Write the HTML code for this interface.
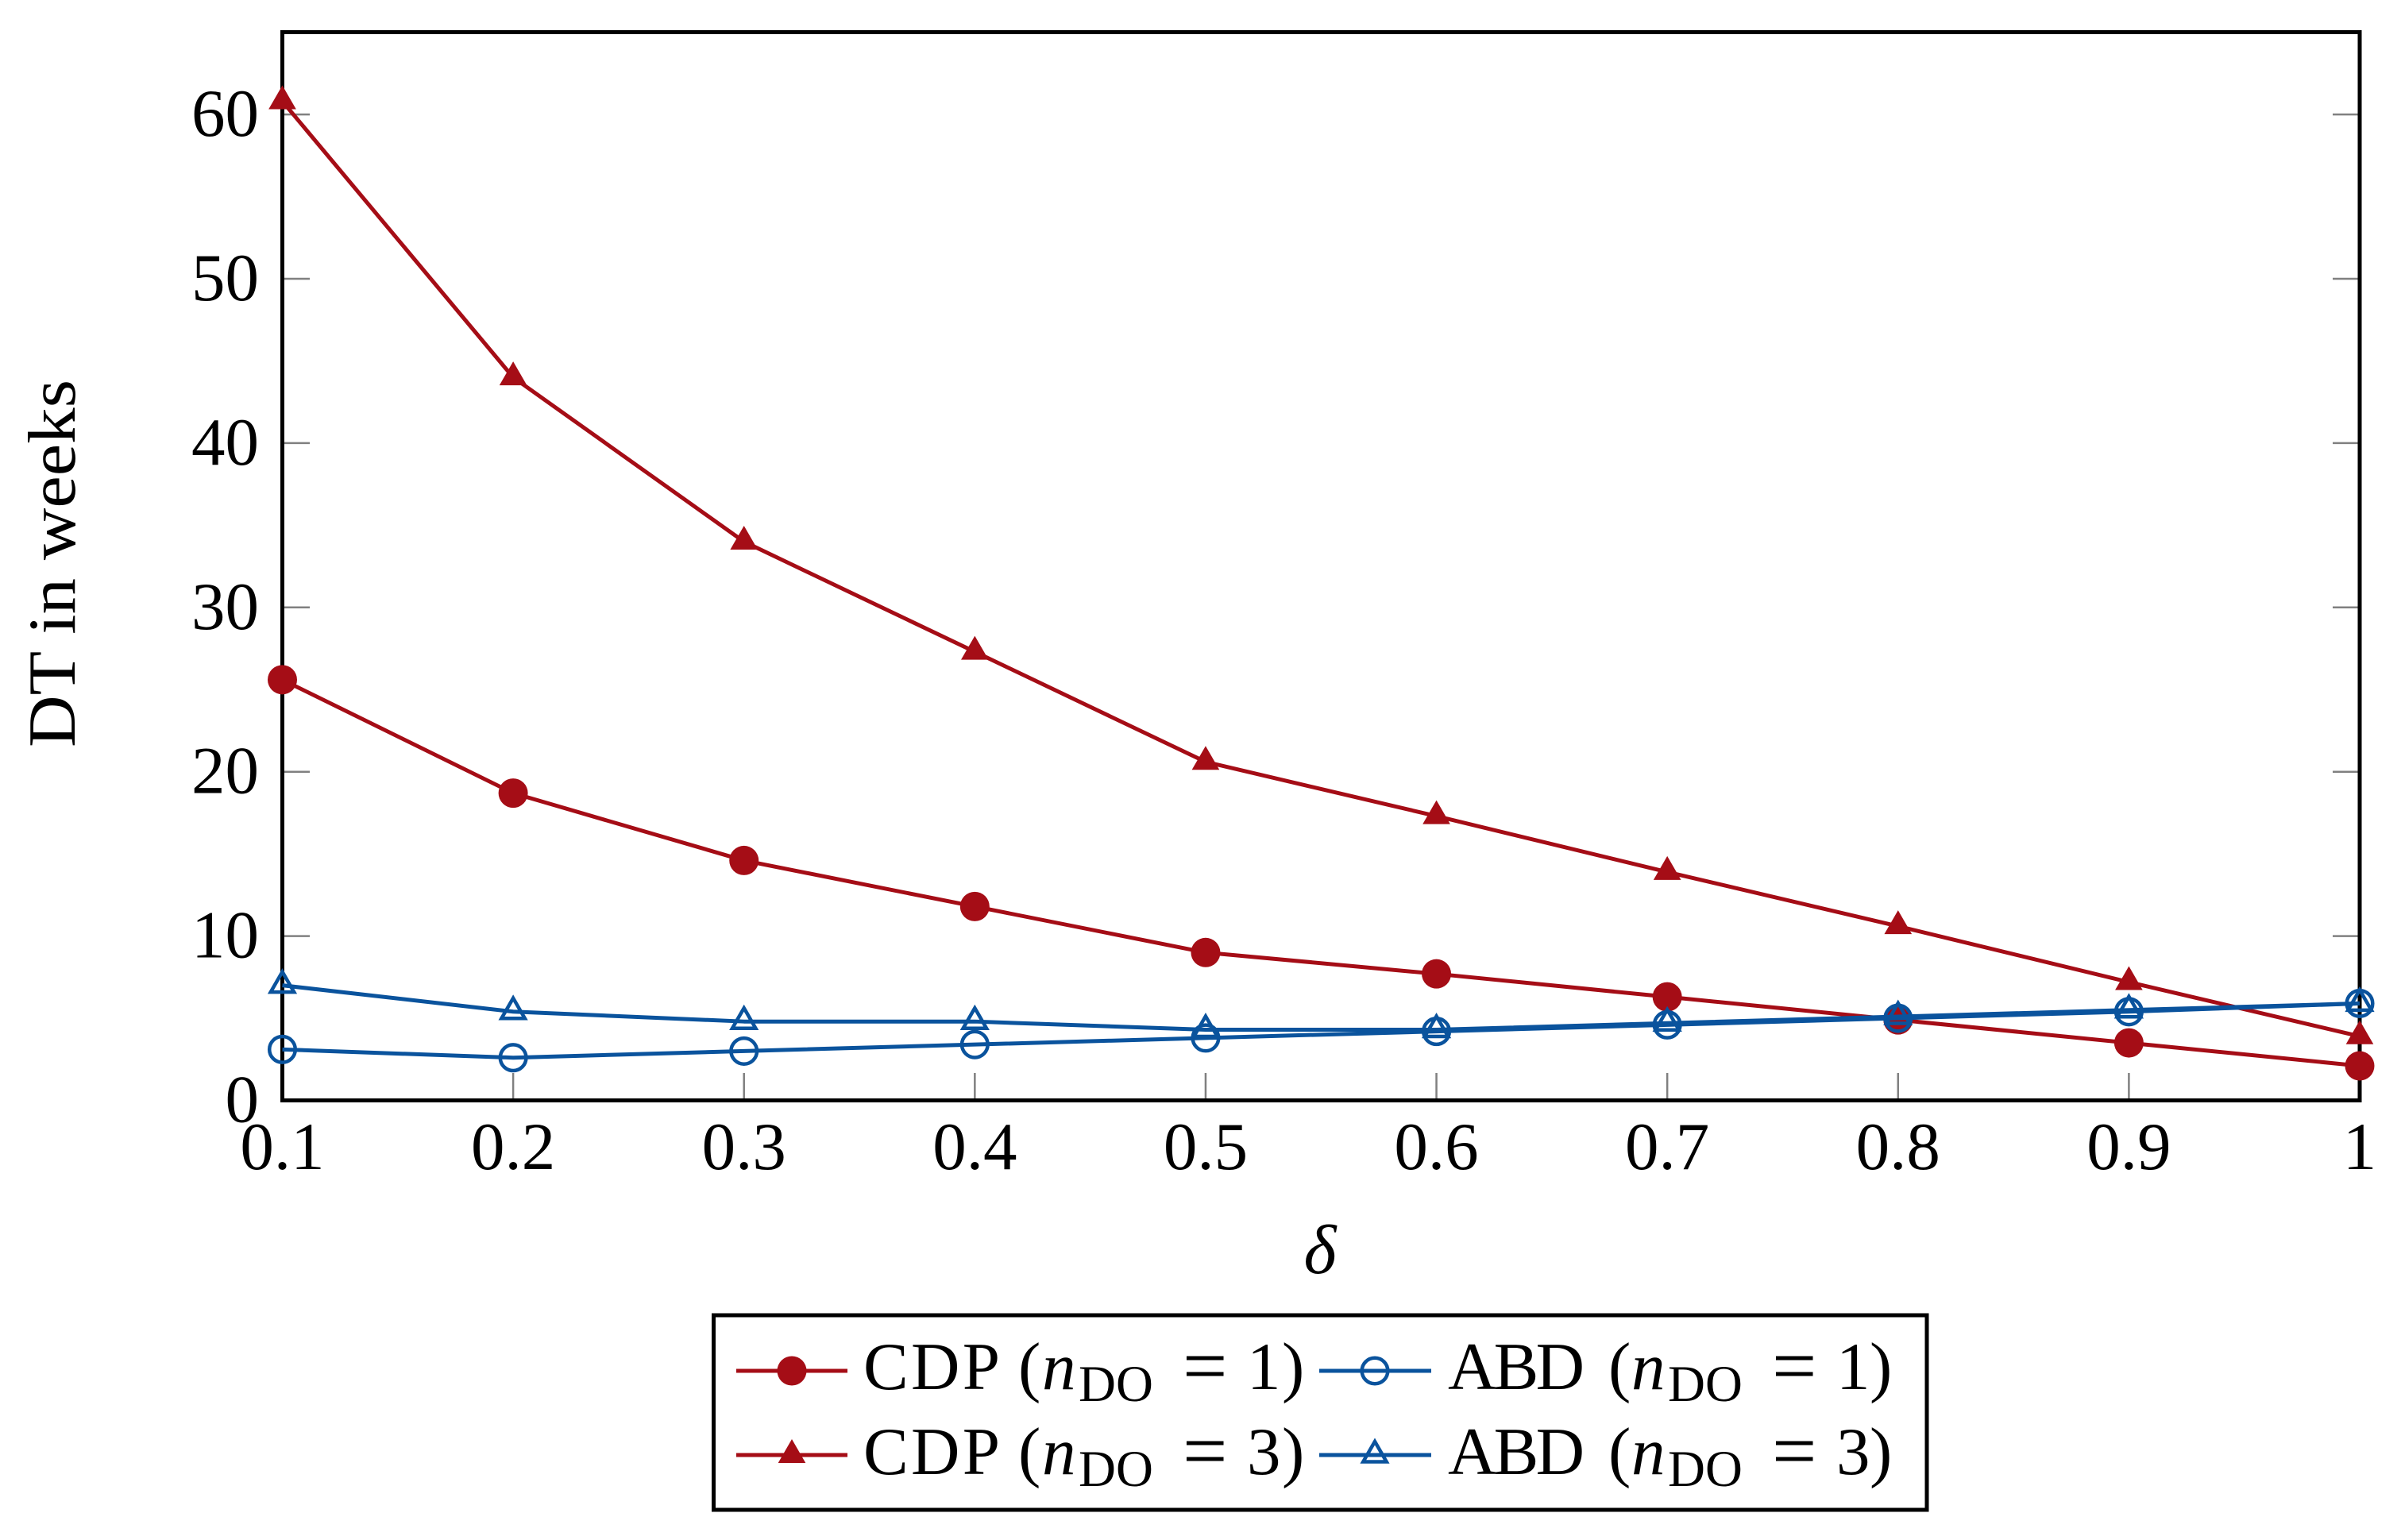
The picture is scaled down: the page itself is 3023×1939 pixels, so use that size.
<!DOCTYPE html>
<html lang="en">
<head>
<meta charset="utf-8">
<title>DT in weeks vs delta</title>
<style>
html,body{margin:0;padding:0;background:#fff;width:3023px;height:1939px;overflow:hidden}
svg{display:block}
text{font-family:"Liberation Serif",serif;font-size:85px;fill:#000}
.sub{font-size:65px}
.it{font-style:italic}
.eq{font-size:100px}
</style>
</head>
<body>
<svg id="chart" xmlns="http://www.w3.org/2000/svg" width="3023" height="1939" viewBox="0 0 3023 1939">
  <g id="ticks"></g>
  <g id="tick-labels"></g>
  <rect x="355.5" y="40.5" width="2615.5" height="1345" fill="none" stroke="#000" stroke-width="5"/>
  <g id="series"></g>
  <text transform="translate(94,941) rotate(-90)" textLength="463" lengthAdjust="spacingAndGlyphs">DT in weeks</text>
  <text class="it" x="1662" y="1603" text-anchor="middle" style="font-size:88px">δ</text>
  <g>
    <rect x="898.5" y="1656" width="1527.5" height="245" fill="#fff" stroke="#000" stroke-width="5"/>
    <g>
      <line x1="927" y1="1726" x2="1067" y2="1726" stroke="#A50D16" stroke-width="5"/>
      <circle cx="997" cy="1726" r="18.5" fill="#A50D16"/>
      <text y="1749"><tspan x="1087" textLength="172">CDP</tspan><tspan x="1282">(</tspan><tspan x="1312" class="it">n</tspan><tspan x="1358" dy="15" class="sub">DO</tspan><tspan x="1489" dy="-11" class="eq">=</tspan><tspan x="1570" dy="-4">1</tspan><tspan x="1614">)</tspan></text>
    </g>
    <g>
      <line x1="927" y1="1832" x2="1067" y2="1832" stroke="#A50D16" stroke-width="5"/>
      <polygon points="997,1812 1014.3,1842 979.7,1842" fill="#A50D16"/>
      <text y="1856"><tspan x="1087" textLength="172">CDP</tspan><tspan x="1282">(</tspan><tspan x="1312" class="it">n</tspan><tspan x="1358" dy="15" class="sub">DO</tspan><tspan x="1489" dy="-11" class="eq">=</tspan><tspan x="1570" dy="-4">3</tspan><tspan x="1614">)</tspan></text>
    </g>
    <g>
      <line x1="1661" y1="1726" x2="1802" y2="1726" stroke="#0A539D" stroke-width="5"/>
      <circle cx="1731" cy="1726" r="16.3" fill="none" stroke="#0A539D" stroke-width="4.5"/>
      <text y="1749"><tspan x="1823" textLength="172">ABD</tspan><tspan x="2025">(</tspan><tspan x="2054" class="it">n</tspan><tspan x="2100" dy="15" class="sub">DO</tspan><tspan x="2231" dy="-11" class="eq">=</tspan><tspan x="2312" dy="-4">1</tspan><tspan x="2354">)</tspan></text>
    </g>
    <g>
      <line x1="1661" y1="1832" x2="1802" y2="1832" stroke="#0A539D" stroke-width="5"/>
      <polygon points="1731,1815 1745.7,1840.5 1716.3,1840.5" fill="none" stroke="#0A539D" stroke-width="4.5"/>
      <text y="1856"><tspan x="1823" textLength="172">ABD</tspan><tspan x="2025">(</tspan><tspan x="2054" class="it">n</tspan><tspan x="2100" dy="15" class="sub">DO</tspan><tspan x="2231" dy="-11" class="eq">=</tspan><tspan x="2312" dy="-4">3</tspan><tspan x="2354">)</tspan></text>
    </g>
  </g>
</svg>
<script>
const deltas = [0.1, 0.2, 0.3, 0.4, 0.5, 0.6, 0.7, 0.8, 0.9, 1];
const cdpOne = [25.6, 18.7, 14.6, 11.8, 9.0, 7.7, 6.3, 4.9, 3.5, 2.1];
const cdpThree = [60.8, 44.0, 34.0, 27.3, 20.6, 17.3, 13.9, 10.6, 7.2, 3.9];
const abdOne = [3.1, 2.6, 3.0, 3.4, 3.8, 4.2, 4.6, 5.0, 5.4, 5.9];
const abdThree = [7.0, 5.4, 4.8, 4.8, 4.3, 4.3, 4.7, 5.1, 5.5, 5.9];
const xTickValues = [0.1, 0.2, 0.3, 0.4, 0.5, 0.6, 0.7, 0.8, 0.9, 1];
const xTickLabels = ['0.1', '0.2', '0.3', '0.4', '0.5', '0.6', '0.7', '0.8', '0.9', '1'];
const yTickValues = [0, 10, 20, 30, 40, 50, 60];
const yTickLabels = ['0', '10', '20', '30', '40', '50', '60'];

const NS = 'http://www.w3.org/2000/svg';
const RED = '#A50D16';
const BLUE = '#0A539D';
const GREY = '#808080';
function xScale(v) { return 355.5 + (v - 0.1) / 0.9 * 2615.5; }
function yScale(v) { return 1385.5 - v * 20.69; }
function make(tag, attrs, parent) {
  const el = document.createElementNS(NS, tag);
  for (const k in attrs) el.setAttribute(k, attrs[k]);
  parent.appendChild(el);
  return el;
}
const tickLayer = document.getElementById('ticks');
const labelLayer = document.getElementById('tick-labels');
const seriesLayer = document.getElementById('series');

xTickValues.forEach(function (v, i) {
  const x = xScale(v);
  const tick = make('line', { x1: x, x2: x, y1: 1385, y2: 1351, stroke: GREY, 'stroke-width': 2.5 }, tickLayer);
  
  
  const label = make('text', { x: x, y: 1472, 'text-anchor': 'middle' }, labelLayer);
  
  
  label.textContent = xTickLabels[i];
});
yTickValues.forEach(function (v, i) {
  const y = yScale(v);
  if (v > 0) {
    const left = make('line', { x1: 356, x2: 390, y1: y, y2: y, stroke: GREY, 'stroke-width': 2.5 }, tickLayer);
    
    
    const right = make('line', { x1: 2971, x2: 2937, y1: y, y2: y, stroke: GREY, 'stroke-width': 2.5 }, tickLayer);
    
    
  }
  const label = make('text', { x: 326, y: y + 27, 'text-anchor': 'end' }, labelLayer);
  
  
  label.textContent = yTickLabels[i];
});

function drawSeries(values, color, shape, filled, name) {
  const g = make('g', {}, seriesLayer);
  
  
  const pts = values.map(function (v, i) { return xScale(deltas[i]) + ',' + yScale(v); }).join(' ');
  const line = make('polyline', { points: pts, fill: 'none', stroke: color, 'stroke-width': 5, 'stroke-linejoin': 'round' }, g);
  
  
  values.forEach(function (v, i) {
    const cx = xScale(deltas[i]);
    const cy = yScale(v);
    const paint = filled ? { fill: color } : { fill: 'none', stroke: color, 'stroke-width': 4.5 };
    let mark;
    if (shape === 'circle') {
      const r = filled ? 18.5 : 16.3;
      mark = make('circle', Object.assign({ cx: cx, cy: cy, r: r }, paint), g);
    } else {
      const r = filled ? 20 : 17;
      const p = cx + ',' + (cy - r) + ' ' + (cx + r * 0.866) + ',' + (cy + r / 2) + ' ' + (cx - r * 0.866) + ',' + (cy + r / 2);
      mark = make('polygon', Object.assign({ points: p }, paint), g);
    }
    
    
  });
}
drawSeries(cdpOne, RED, 'circle', true, 'series-cdp-n1');
drawSeries(cdpThree, RED, 'triangle', true, 'series-cdp-n3');
drawSeries(abdOne, BLUE, 'circle', false, 'series-abd-n1');
drawSeries(abdThree, BLUE, 'triangle', false, 'series-abd-n3');
</script>
</body>
</html>
